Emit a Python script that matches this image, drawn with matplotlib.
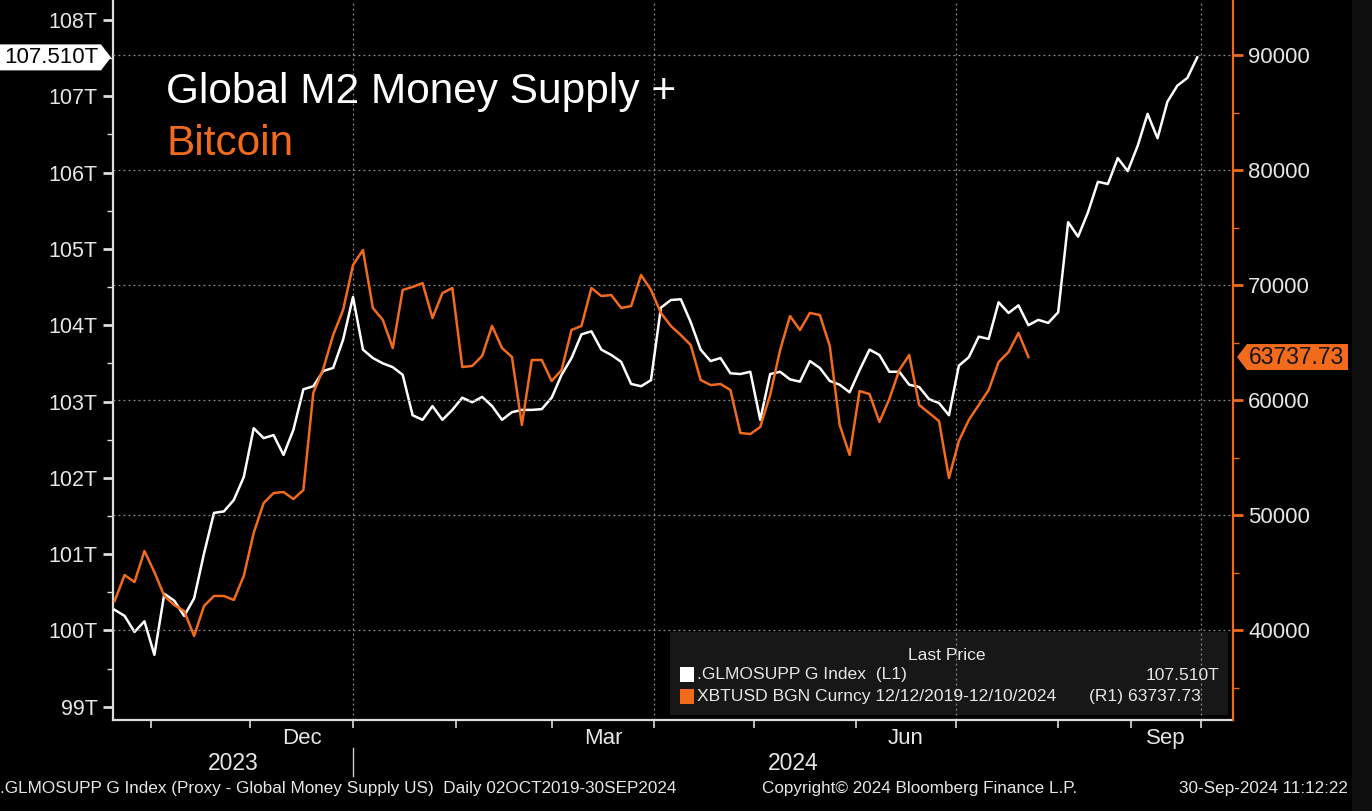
import numpy as np
import pandas as pd
import matplotlib
matplotlib.use("Agg")
import matplotlib.pyplot as plt
import matplotlib.transforms as mtransforms
from matplotlib.patches import Polygon, Rectangle

plt.rcParams['font.family'] = ['Liberation Sans', 'DejaVu Sans']

# ---- data ----
# Global M2 proxy, trillions USD, sampled every 3 days (every 3rd weekday from Aug)
m2_values = [100.27, 100.19, 99.98, 100.12, 99.68, 100.48, 100.39, 100.19, 100.42, 101.01,
             101.54, 101.56, 101.71, 102.01, 102.65, 102.52, 102.56, 102.30, 102.63, 103.16,
             103.20, 103.40, 103.44, 103.81, 104.37, 103.68, 103.57, 103.50, 103.45, 103.35,
             102.82, 102.76, 102.94, 102.76, 102.89, 103.05, 102.99, 103.06, 102.94, 102.76,
             102.86, 102.89, 102.89, 102.90, 103.05, 103.35, 103.57, 103.88, 103.92, 103.68,
             103.61, 103.52, 103.23, 103.20, 103.28, 104.23, 104.33, 104.34, 104.04, 103.68,
             103.53, 103.57, 103.37, 103.36, 103.39, 102.76, 103.36, 103.39, 103.29, 103.26,
             103.53, 103.44, 103.27, 103.22, 103.12, 103.41, 103.68, 103.61, 103.39, 103.39,
             103.22, 103.19, 103.03, 102.98, 102.82, 103.47, 103.58, 103.85, 103.82, 104.30,
             104.16, 104.26, 104.00, 104.07, 104.03, 104.17, 105.35, 105.16, 105.48, 105.88,
             105.85, 106.19, 106.02, 106.35, 106.77, 106.45, 106.93, 107.14, 107.24, 107.51]

# Bitcoin (XBTUSD), plotted 10 weeks ahead, same sampling
btc_values = [42520, 44780, 44170, 46870, 45040, 42960, 42170, 41650, 39480, 42090,
              42960, 42960, 42610, 44700, 48440, 51040, 51910, 52000, 51390, 52170,
              60610, 62700, 65650, 67830, 71740, 73040, 68000, 66960, 64520, 69570,
              69830, 70170, 67130, 69300, 69740, 62870, 62960, 63830, 66440, 64520,
              63740, 57830, 63480, 63480, 61650, 62610, 66090, 66440, 69740, 69040,
              69130, 68000, 68170, 70870, 69570, 67570, 66440, 65650, 64780, 61740,
              61300, 61390, 60870, 57130, 57040, 57650, 60440, 64350, 67300, 66090,
              67570, 67390, 64700, 57830, 55220, 60780, 60520, 58090, 60090, 62610,
              63910, 59570, 58870, 58170, 53220, 56440, 58260, 59570, 60870, 63300,
              64170, 65830, 63737.73]

m2_last = 107.510
btc_last = 63737.73
left_ticks = [99, 100, 101, 102, 103, 104, 105, 106, 107, 108]
right_ticks = [40000, 50000, 60000, 70000, 80000, 90000]
month_labels = ["Dec", "Mar", "Jun", "Sep"]
month_label_starts = ["2023-12-01", "2024-03-01", "2024-06-01", "2024-09-01"]
year_labels = ["2023", "2024"]

grid_days = pd.date_range("2023-10-21", "2024-08-01", freq="3D")
grid_wkdays = pd.bdate_range("2024-08-01", "2024-09-30")[3::3]
m2_dates = grid_days.append(grid_wkdays)
btc_dates = m2_dates[:len(btc_values)]

ORIGIN = pd.Timestamp("2023-10-01")
CUT = pd.Timestamp("2024-08-01")


def chart_x(d):
    # calendar days until August, trading days only after (Bloomberg point axis)
    d = pd.DatetimeIndex(pd.to_datetime(d))
    cal = np.asarray((d - ORIGIN).days, dtype=float)
    bd = np.busday_count(np.datetime64("2024-08-01"), d.values.astype("datetime64[D]"))
    return np.where(d <= CUT, cal, (CUT - ORIGIN).days + bd)


W, H = 1372, 811
ORANGE = "#f26a1c"
TXT = "#e6e6e6"
GRID = "#8c8c8c"


def fx(px):
    return px / W


def fy(py):
    return 1 - py / H


fig = plt.figure(figsize=(W / 100, H / 100), dpi=100, facecolor="black")
# faint side panel of the terminal window at the right edge
fig.add_artist(Rectangle((fx(1352), 0), 20 / W, 1, transform=fig.transFigure,
                         facecolor="#0f0f0f", edgecolor="none"))
ax = fig.add_axes([fx(113), fy(720), (1233 - 113) / W, 720 / H])
ax.set_facecolor("black")
ax2 = ax.twinx()

ax.set_xlim(19.5, 357.8)
ax.set_ylim(98.826, 108.262)
ax2.set_ylim(32174, 94783)

# legend panel (behind grid)
ax.add_patch(Rectangle((fx(670), fy(715)), 558 / W, 83 / H, transform=fig.transFigure,
                       facecolor="#171717", edgecolor="none", zorder=0.5))

# grid
for q in chart_x(["2024-01-01", "2024-04-01", "2024-07-01", "2024-10-01"]):
    ax.axvline(q, color=GRID, lw=0.9, ls=(0, (1.5, 2.5)), zorder=1)
for t in right_ticks:
    ax2.axhline(t, color=GRID, lw=0.9, ls=(0, (1.5, 2.5)), zorder=1)

ax.plot(chart_x(m2_dates), m2_values, color="white", lw=1.8, zorder=3)
ax2.plot(chart_x(btc_dates), btc_values, color=ORANGE, lw=1.8, zorder=2)

# spines
for a in (ax, ax2):
    a.spines["top"].set_visible(False)
ax.spines["left"].set_color("#dddddd")
ax.spines["bottom"].set_color("#dddddd")
ax.spines["right"].set_visible(False)
ax2.spines["left"].set_visible(False)
ax2.spines["bottom"].set_visible(False)
ax2.spines["right"].set_color(ORANGE)
for s in (ax.spines["left"], ax.spines["bottom"], ax2.spines["right"]):
    s.set_linewidth(1.6)

# left axis
ax.set_yticks(left_ticks)
ax.set_yticklabels([f"{v}T" for v in left_ticks])
ax.set_yticks(np.arange(99.5, 108, 1.0), minor=True)
ax.tick_params(axis="y", which="major", colors="#dddddd", labelcolor=TXT, length=7, width=2,
               labelsize=15.5, pad=4)
ax.tick_params(axis="y", which="minor", colors="#dddddd", length=4, width=1)

# right axis
ax2.set_yticks(right_ticks)
ax2.set_yticklabels([str(v) for v in right_ticks])
ax2.set_yticks(np.arange(35000, 95000, 10000), minor=True)
ax2.tick_params(axis="y", which="major", colors=ORANGE, labelcolor=TXT, length=7, width=2,
                labelsize=16, pad=4)
ax2.tick_params(axis="y", which="minor", colors=ORANGE, length=4, width=1)

# bottom axis: month starts as ticks, labels centred on the month
month_starts = pd.date_range("2023-11-01", "2024-10-01", freq="MS")
ax.set_xticks(chart_x(month_starts))
ax.set_xticklabels([""] * len(month_starts))
mids = []
for s in month_label_starts:
    s = pd.Timestamp(s)
    e = s + pd.offsets.MonthBegin(1)
    mids.append((chart_x([s])[0] + chart_x([e])[0]) / 2)
ax.set_xticks(mids, minor=True)
ax.set_xticklabels(month_labels, minor=True)
ax.tick_params(axis="x", which="major", colors="#dddddd", length=6, width=1.2)
ax.tick_params(axis="x", which="minor", length=0, labelcolor=TXT, labelsize=16, pad=6)

# year labels and separator
jan1 = chart_x(["2024-01-01"])[0]
x0, x1 = ax.get_xlim()
bt = mtransforms.blended_transform_factory(ax.transData, fig.transFigure)
ax.text((x0 + jan1) / 2, fy(763), year_labels[0], transform=bt, color=TXT, fontsize=16.5,
        ha="center", va="center")
ax.text((jan1 + x1) / 2, fy(763), year_labels[1], transform=bt, color=TXT, fontsize=16.5,
        ha="center", va="center")
ax.plot([jan1, jan1], [fy(748), fy(776)], transform=bt, color="#cccccc", lw=1, clip_on=False)

# title
fig.text(fx(166), fy(92), "Global M2 Money Supply +", color="white", fontsize=30.5,
         ha="left", va="center")
fig.text(fx(166), fy(144), "Bitcoin", color=ORANGE, fontsize=30.5, ha="left", va="center")

# last-price tags
y0 = ax.transData.transform((x0, m2_last))[1]
fig.add_artist(Polygon([(0, y0 - 13), (101, y0 - 13), (111, y0), (101, y0 + 13), (0, y0 + 13)],
                       closed=True, facecolor="white", edgecolor="none",
                       transform=mtransforms.IdentityTransform()))
fig.text(fx(51), y0 / H, f"{m2_last:.3f}T", color="black", fontsize=16, ha="center", va="center")

y1 = ax2.transData.transform((x0, btc_last))[1]
fig.add_artist(Polygon([(1237, y1), (1247, y1 + 13), (1348, y1 + 13), (1348, y1 - 13), (1247, y1 - 13)],
                       closed=True, facecolor=ORANGE, edgecolor="none",
                       transform=mtransforms.IdentityTransform()))
fig.text(fx(1297), y1 / H, f"{btc_last:.2f}", color="#151515", fontsize=16.5, ha="center", va="center")

# legend
fig.text(fx(947), fy(655), "Last Price", color=TXT, fontsize=12.6, ha="center", va="center")
fig.add_artist(Rectangle((fx(680), fy(682)), 14 / W, 15 / H, transform=fig.transFigure,
                         facecolor="white", edgecolor="none"))
fig.add_artist(Rectangle((fx(680), fy(704)), 14 / W, 15 / H, transform=fig.transFigure,
                         facecolor=ORANGE, edgecolor="none"))
fig.text(fx(697), fy(675), ".GLMOSUPP G Index  (L1)", color=TXT, fontsize=12.6, ha="left", va="center")
fig.text(fx(1219), fy(675), f"{m2_last:.3f}T", color=TXT, fontsize=12.6, ha="right", va="center")
fig.text(fx(697), fy(697), "XBTUSD BGN Curncy 12/12/2019-12/10/2024", color=TXT, fontsize=12.6,
         ha="left", va="center")
fig.text(fx(1201), fy(697), f"(R1) {btc_last:.2f}", color=TXT, fontsize=12.6, ha="right", va="center")

# footer
fig.text(fx(0), fy(789), ".GLMOSUPP G Index (Proxy - Global Money Supply US)  Daily 02OCT2019-30SEP2024",
         color=TXT, fontsize=12.3, ha="left", va="center")
fig.text(fx(762), fy(789), "Copyright\u00a9 2024 Bloomberg Finance L.P.", color=TXT, fontsize=12.3,
         ha="left", va="center")
fig.text(fx(1348), fy(789), "30-Sep-2024 11:12:22", color=TXT, fontsize=12.3, ha="right", va="center")

fig.savefig("out.png", dpi=100, facecolor="black")
